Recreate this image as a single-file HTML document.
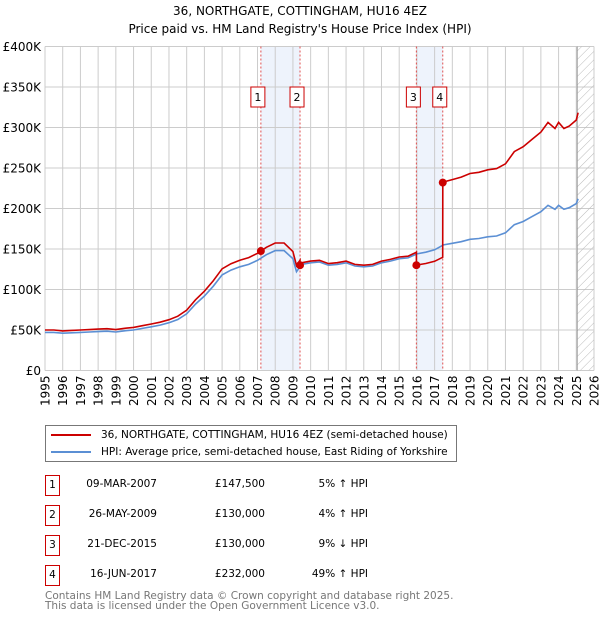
<!DOCTYPE html>
<html><head><meta charset="utf-8"><style>
body{margin:0;background:#fff;font-family:"DejaVu Sans","Liberation Sans",sans-serif;}
#wrap{position:relative;width:600px;height:620px;overflow:hidden;}
.t{position:absolute;white-space:nowrap;color:#000;}
svg text{font-family:"DejaVu Sans","Liberation Sans",sans-serif;}
</style></head><body>
<div id="wrap">
<div class="t" style="left:0;width:600px;text-align:center;top:2px;font-size:12px;line-height:18px;">36, NORTHGATE, COTTINGHAM, HU16 4EZ<br>Price paid vs. HM Land Registry's House Price Index (HPI)</div>
<svg id="chart" width="600" height="420" style="position:absolute;left:0;top:0"></svg>
<div style="position:absolute;left:45px;top:425px;width:410px;height:35px;border:1px solid #777;font-size:10.5px;">
 <div style="position:absolute;left:5px;top:3px;white-space:nowrap"><span style="display:inline-block;width:40px;height:2px;background:#cc0000;vertical-align:middle;margin-right:10px"></span>36, NORTHGATE, COTTINGHAM, HU16 4EZ (semi-detached house)</div>
 <div style="position:absolute;left:5px;top:20px;white-space:nowrap"><span style="display:inline-block;width:40px;height:2px;background:#5b8fd4;vertical-align:middle;margin-right:10px"></span>HPI: Average price, semi-detached house, East Riding of Yorkshire</div>
</div>
<div id="table"></div>
<div class="t" style="left:45px;top:591px;font-size:10.5px;line-height:10px;color:#777">Contains HM Land Registry data © Crown copyright and database right 2025.<br>This data is licensed under the Open Government Licence v3.0.</div>
</div>
<script>
const yearTicks=[1995,1996,1997,1998,1999,2000,2001,2002,2003,2004,2005,2006,2007,2008,2009,2010,2011,2012,2013,2014,2015,2016,2017,2018,2019,2020,2021,2022,2023,2024,2025,2026];
const priceTicks=[0,50,100,150,200,250,300,350,400];
const hpiT=[1995,1995.5,1996,1996.5,1997,1997.5,1998,1998.5,1999,1999.5,2000,2000.5,2001,2001.5,2002,2002.5,2003,2003.5,2004,2004.5,2005,2005.5,2006,2006.5,2007,2007.5,2008,2008.5,2009,2009.2,2009.5,2010,2010.5,2011,2011.5,2012,2012.5,2013,2013.5,2014,2014.5,2015,2015.5,2016,2016.5,2017,2017.5,2018,2018.5,2019,2019.5,2020,2020.5,2021,2021.5,2022,2022.5,2023,2023.4,2023.8,2024,2024.3,2024.6,2025,2025.1];
const hpiV=[47,47,46,46.5,47,47.5,48,48.5,47.5,49,50,52,54,56,59,63,70,82,92,104,118,124,128,131,136,143,148,148,138,122,131,133,134,130,131,133,129,128,129,133,135,138,139,144,146,149,155,157,159,162,163,165,166,170,180,184,190,196,204,199,204,199,201,206,212];
const saleT=[2007.19,2009.40,2015.97,2017.46];
const saleP=[147.5,130,130,232];
const saleLabel=['1','2','3','4'];
const saleDate=['09-MAR-2007','26-MAY-2009','21-DEC-2015','16-JUN-2017'];
const salePrice=['£147,500','£130,000','£130,000','£232,000'];
const saleDiff=['5% ↑ HPI','4% ↑ HPI','9% ↓ HPI','49% ↑ HPI'];

const X0=45,X1=594,Y0=370.5,Y1=46.5;
const xs=t=>X0+(t-1995)/(2026-1995)*(X1-X0);
const ys=v=>Y0-v/400*(Y0-Y1);
const svg=document.getElementById('chart');
const NS='http://www.w3.org/2000/svg';
function mk(tag,attrs,parent){const e=document.createElementNS(NS,tag);for(const k in attrs)e.setAttribute(k,attrs[k]);(parent||svg).appendChild(e);return e;}
function hpiAt(t){for(let i=0;i<hpiT.length-1;i++){if(t<=hpiT[i+1]){const f=(t-hpiT[i])/(hpiT[i+1]-hpiT[i]);return hpiV[i]+f*(hpiV[i+1]-hpiV[i]);}}return hpiV[hpiV.length-1];}

const defs=mk('defs',{});
const pat=mk('pattern',{id:'hatch',patternUnits:'userSpaceOnUse',width:6,height:6,patternTransform:'rotate(45)'},defs);
mk('line',{x1:0,y1:0,x2:0,y2:6,stroke:'#bbb','stroke-width':1},pat);

for(let i=0;i<saleT.length;i+=2){
 const b=mk('rect',{x:xs(saleT[i]),y:Y1,width:xs(saleT[i+1])-xs(saleT[i]),height:Y0-Y1,fill:'#eef3fc'});
 
 
}
yearTicks.forEach(y=>{
 const l=mk('line',{x1:xs(y),x2:xs(y),y1:Y1,y2:Y0,stroke:'#ccc','stroke-width':1});
 
 
 const tx=mk('text',{x:0,y:0,'font-size':12,'text-anchor':'end',transform:`translate(${xs(y)+4.5},${Y0+5}) rotate(-90)`});
 tx.textContent=y;
 
 
});
priceTicks.forEach(v=>{
 const l=mk('line',{x1:X0,x2:X1,y1:ys(v),y2:ys(v),stroke:'#ccc','stroke-width':1});
 
 
 const tx=mk('text',{x:X0-4,y:ys(v)+4.5,'font-size':12,'text-anchor':'end'});
 tx.textContent=v===0?'£0':'£'+v+'K';
 
 
});
const hx=xs(2025.05);
const h=mk('rect',{x:hx,y:Y1,width:X1-hx,height:Y0-Y1,fill:'url(#hatch)'});


mk('line',{x1:hx,x2:hx,y1:Y1,y2:Y0,stroke:'#999','stroke-width':1});
saleT.forEach((t,i)=>{
 const l=mk('line',{x1:xs(t),x2:xs(t),y1:Y1,y2:Y0,stroke:'#e05050','stroke-width':1,'stroke-dasharray':'2,2'});
 
 
 const r=mk('rect',{x:xs(t)-10,y:87,width:14,height:20,fill:'#fff',stroke:'#cc0000','stroke-width':1});
 
 
 const tx=mk('text',{x:xs(t)-3,y:101,'font-size':11,'text-anchor':'middle'});
 tx.textContent=saleLabel[i];
});
let d='';
hpiT.forEach((t,i)=>{d+=(i?'L':'M')+xs(t).toFixed(1)+','+ys(hpiV[i]).toFixed(1);});
const hp=mk('path',{d:d,fill:'none',stroke:'#5b8fd4','stroke-width':1.6});


const ratio=t=>{let k=0;for(let i=0;i<saleT.length;i++)if(t>=saleT[i])k=i;return saleP[k]/hpiAt(saleT[k]);};
const ts=hpiT.slice();saleT.forEach(t=>{ts.push(t-0.001);ts.push(t);});ts.sort((a,b)=>a-b);
let d2='';
ts.forEach((t,i)=>{const v=hpiAt(t)*ratio(t);d2+=(i?'L':'M')+xs(t).toFixed(1)+','+ys(v).toFixed(1);});
const pp=mk('path',{d:d2,fill:'none',stroke:'#cc0000','stroke-width':1.6});


saleT.forEach((t,i)=>{
 const c=mk('circle',{cx:xs(t),cy:ys(saleP[i]),r:4,fill:'#cc0000'});
 
 
});
const tb=document.getElementById('table');
saleT.forEach((t,i)=>{
 const y=475+i*30;
 const row=document.createElement('div');
 
 
 row.style.cssText=`position:absolute;left:0;top:${y}px;width:600px;height:20px;font-size:10.5px;white-space:nowrap;`;
 row.innerHTML=`<div style="position:absolute;left:45px;top:0;width:13px;height:19px;border:1px solid #cc0000;text-align:center;line-height:18px">${saleLabel[i]}</div>
 <div style="position:absolute;right:443px;top:3px">${saleDate[i]}</div>
 <div style="position:absolute;right:335px;top:3px">${salePrice[i]}</div>
 <div style="position:absolute;right:232px;top:3px">${saleDiff[i]}</div>`;
 tb.appendChild(row);
});
</script>
</body></html>
